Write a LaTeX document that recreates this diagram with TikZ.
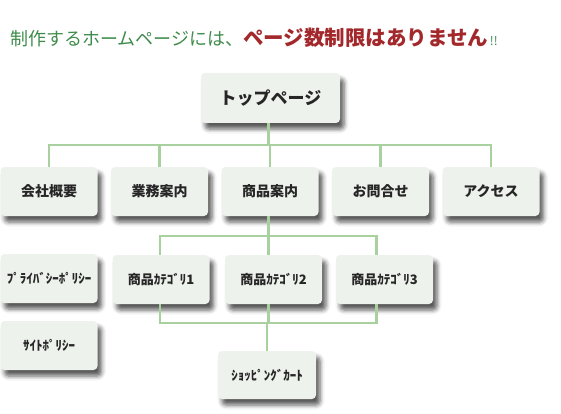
\documentclass[tikz,border=0pt]{standalone}
\usepackage{fontspec}
\usepackage{tikz}
\usetikzlibrary{shadows.blur}
\newfontfamily\jpfont{Noto Sans CJK JP}

\definecolor{headgreen}{HTML}{3F8B4C}
\definecolor{headred}{HTML}{A3282B}
\definecolor{linkgreen}{HTML}{A9D1A0}
\definecolor{boxfill}{HTML}{EEF2ED}

\begin{document}
\begin{tikzpicture}[x=1pt, y=-1pt,
		page/.style={draw=none, fill=boxfill, rounded corners=4pt, minimum width=97pt, minimum height=49pt, inner sep=0pt,
			font=\jpfont\bfseries\fontsize{14}{16}\selectfont, text=black!85,
			blur shadow={shadow xshift=4pt, shadow yshift=-6pt, shadow blur radius=4.5pt, shadow opacity=65}},
		hpage/.style={page, font=\jpfont\bfseries\fontsize{13}{15}\selectfont},
		link/.style={draw=linkgreen, line width=2.6pt}]
		\useasboundingbox (0,0) rectangle (561,414);
		% heading
		\node[anchor=west, inner sep=0pt] (head) at (10,38) {\jpfont{\color{headgreen}\fontsize{18}{20}\selectfont 制作するホームページには、}{\color{headred}\bfseries\fontsize{20.5}{22}\selectfont ページ数制限はありません}\,{\color{headgreen}\fontsize{12}{14}\selectfont !!}};
		% pages
		\node[page, minimum width=139pt, minimum height=50pt, font=\jpfont\bfseries\fontsize{17}{19}\selectfont] (top) at (270.5,98) {トップページ};
		\node[page] (kaisha) at (49,191.5) {会社概要};
		\node[page] (gyomu) at (159.5,191.5) {業務案内};
		\node[page] (shohin) at (270,191.5) {商品案内};
		\node[page] (toiawase) at (380.5,191.5) {お問合せ};
		\node[page] (access) at (491,191.5) {アクセス};
		\node[hpage] (privacy) at (49,278.5) {ﾌﾟﾗｲﾊﾞｼｰﾎﾟﾘｼｰ};
		\node[hpage] (cat1) at (161,279.5) {商品ｶﾃｺﾞﾘ1};
		\node[hpage] (cat2) at (273.5,279.5) {商品ｶﾃｺﾞﾘ2};
		\node[hpage] (cat3) at (384.5,279.5) {商品ｶﾃｺﾞﾘ3};
		\node[hpage] (site) at (49,345.5) {ｻｲﾄﾎﾟﾘｼｰ};
		\node[hpage, minimum width=98pt, minimum height=48pt] (cart) at (267,375) {ｼｮｯﾋﾟﾝｸﾞｶｰﾄ};
		% links
		\coordinate (hub1) at (268.5,145);
		\coordinate (hub2) at (268.5,236);
		\coordinate (hub3) at (268.5,323);
		\draw[link] ([xshift=-2pt]top.south) -- (hub1);
		\foreach \n in {kaisha,gyomu,shohin,toiawase,access}
			\draw[link] (\n.north) |- (hub1);
		\draw[link] ([xshift=-1.5pt]shohin.south) -- (hub2);
		\draw[link] ([xshift=-1pt]cat1.north) |- (hub2);
		\draw[link] ([xshift=-5pt]cat2.north) |- (hub2);
		\draw[link] ([xshift=-8pt]cat3.north) |- (hub2);
		\draw[link] ([xshift=-1pt]cat1.south) |- (hub3);
		\draw[link] ([xshift=-5pt]cat2.south) |- (hub3);
		\draw[link] ([xshift=-8pt]cat3.south) |- (hub3);
		\draw[link] (cart.north) |- (hub3);
\end{tikzpicture}
\end{document}
